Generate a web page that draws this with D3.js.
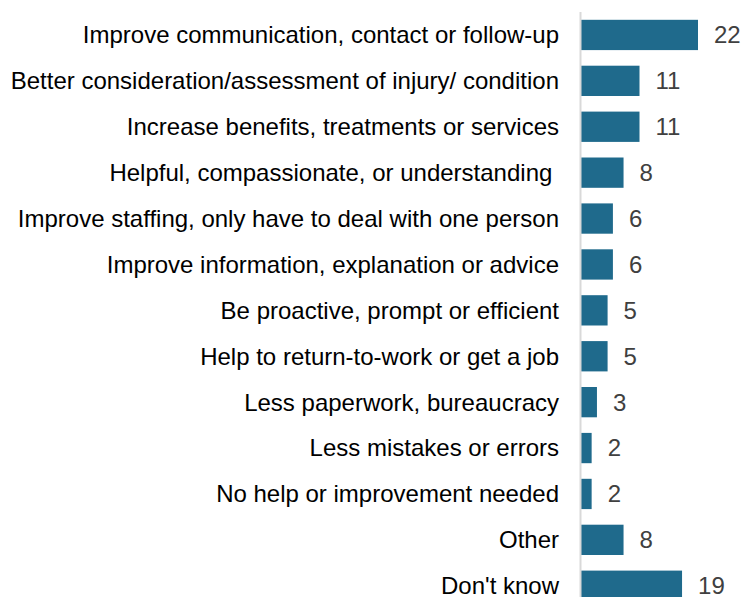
<!DOCTYPE html>
<html>
<head>
<meta charset="utf-8">
<script src="https://cdn.jsdelivr.net/npm/d3@7"></script>
<style>
  html, body { margin: 0; padding: 0; background: #fff; }
  svg { display: block; font-family: "Liberation Sans", Arial, sans-serif; }
  text { white-space: pre; }
</style>
</head>
<body>
<svg id="chart" width="743" height="597"></svg>
<script>
// Suggested improvements, % of responses
const categories = [
  "Improve communication, contact or follow-up",
  "Better consideration/assessment of injury/ condition",
  "Increase benefits, treatments or services",
  "Helpful, compassionate, or understanding ",
  "Improve staffing, only have to deal with one person",
  "Improve information, explanation or advice",
  "Be proactive, prompt or efficient",
  "Help to return-to-work or get a job",
  "Less paperwork, bureaucracy",
  "Less mistakes or errors",
  "No help or improvement needed",
  "Other",
  "Don't know"
];
const values = [22, 11, 11, 8, 6, 6, 5, 5, 3, 2, 2, 8, 19];

const svg = d3.select("#chart");
const axisX = 581;
const plotTop = 12;
const step = 45.9;

const x = d3.scaleLinear().domain([0, 22]).range([axisX, axisX + 117]);
const y = d3.scaleBand()
  .domain(categories)
  .range([plotTop, plotTop + step * categories.length])
  .paddingInner(0.34)
  .paddingOuter(0.17);

const rows = categories.map((c, i) => ({ c, v: values[i] }));

svg.selectAll("rect.bar")
  .data(rows)
  .join("rect")
  .attr("class", "bar")
  .attr("x", x(0))
  .attr("y", d => y(d.c))
  .attr("width", d => x(d.v) - x(0))
  .attr("height", y.bandwidth())
  .attr("fill", "#1f6a8c");

// vertical baseline
svg.append("line")
  .attr("x1", axisX - 0.5).attr("x2", axisX - 0.5)
  .attr("y1", plotTop).attr("y2", 597)
  .attr("stroke", "#d9d9d9")
  .attr("stroke-width", 2);

// category labels
svg.selectAll("text.cat")
  .data(rows)
  .join("text")
  .attr("class", "cat")
  .attr("x", axisX - 22)
  .attr("y", d => y(d.c) + y.bandwidth() / 2)
  .attr("dy", "0.35em")
  .attr("text-anchor", "end")
  .attr("font-size", 24)
  .attr("fill", "#000")
  .text(d => d.c);

// value labels
svg.selectAll("text.val")
  .data(rows)
  .join("text")
  .attr("class", "val")
  .attr("x", d => x(d.v) + 16)
  .attr("y", d => y(d.c) + y.bandwidth() / 2)
  .attr("dy", "0.35em")
  .attr("font-size", 24)
  .attr("fill", "#404040")
  .text(d => d.v);
</script>
</body>
</html>
